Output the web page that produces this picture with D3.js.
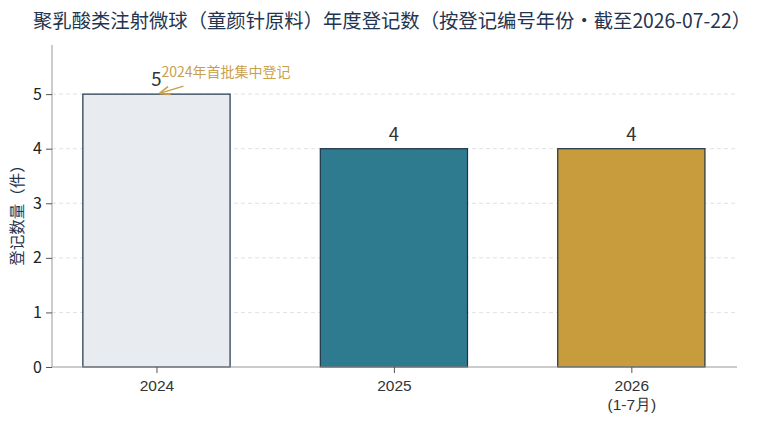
<!DOCTYPE html>
<html><head><meta charset="utf-8">
<script src="https://cdn.jsdelivr.net/npm/d3@7/dist/d3.min.js"></script>
<style>
html,body{margin:0;padding:0;background:#fff;}
svg{display:block;font-family:"Noto Sans CJK SC","Noto Sans",sans-serif;}
</style></head>
<body>
<svg id="c" width="767" height="425"></svg>
<script>
const categories = ["2024", "2025", "2026"];
const categoryLabels = [["2024"], ["2025"], ["2026", "(1-7月)"]];
const values = [5, 4, 4];
const barColors = ["#E8ECF0", "#2E7B90", "#C89B3C"];
const yTicks = [0, 1, 2, 3, 4, 5];
const title = "聚乳酸类注射微球（童颜针原料）年度登记数（按登记编号年份·截至2026-07-22）";
const yLabel = "登记数量（件）";
const annotation = "2024年首批集中登记";

const svg = d3.select("#c");
const m = {l: 52, r: 30, t: 45, b: 58};
const W = 767, H = 425;
const iw = W - m.l - m.r, ih = H - m.t - m.b;
const navy = "#1F3550";

const x = d3.scaleLinear().domain([-0.44, 2.445]).range([m.l, m.l + iw]);
const y = d3.scaleLinear().domain([0, 5.9]).range([m.t + ih, m.t]);
const bw = 0.62;

// title
svg.append("text").attr("x", 392).attr("y", 28).attr("text-anchor", "middle")
  .attr("font-size", 19.5).attr("fill", navy)
  .attr("textLength", 718).attr("lengthAdjust", "spacingAndGlyphs")
  .text(title);

// gridlines
const g = svg.append("g");
g.selectAll("line.grid").data(yTicks.filter(d => d > 0)).join("line")
  .attr("x1", m.l).attr("x2", m.l + iw)
  .attr("y1", d => y(d)).attr("y2", d => y(d))
  .attr("stroke", "#d9d9d9").attr("stroke-width", 0.8).attr("stroke-dasharray", "4,3");

// bars
svg.append("g").selectAll("rect").data(values).join("rect")
  .attr("x", (d, i) => x(i - bw / 2))
  .attr("width", (d, i) => x(i + bw / 2) - x(i - bw / 2))
  .attr("y", d => y(d))
  .attr("height", d => y(0) - y(d))
  .attr("fill", (d, i) => barColors[i])
  .attr("stroke", "#1E3348").attr("stroke-width", 1.2);

// value labels
svg.append("g").selectAll("text").data(values).join("text")
  .attr("x", (d, i) => x(i)).attr("y", d => y(d) - 8)
  .attr("text-anchor", "middle").attr("font-size", 18.5).attr("fill", "#333")
  .text(d => d);

// axes
const yAxis = d3.axisLeft(y).tickValues(yTicks).tickSize(6).tickPadding(4).tickFormat(d3.format("d"));
const ya = svg.append("g").attr("transform", `translate(${m.l},0)`).call(yAxis);
ya.select(".domain").attr("stroke", "#999").attr("d", `M0,${y(0)}V${m.t}`);
ya.selectAll(".tick line").attr("stroke", "#555");
ya.selectAll(".tick text").attr("font-size", 16).attr("fill", "#222").attr("font-family", "'Noto Sans CJK SC',sans-serif");

const xAxis = d3.axisBottom(x).tickValues([0, 1, 2]).tickSize(6).tickFormat(() => "");
const xa = svg.append("g").attr("transform", `translate(0,${y(0)})`).call(xAxis);
xa.select(".domain").attr("stroke", "#999").attr("stroke-width", 1.2).attr("d", `M${m.l},0H${m.l + iw}`);
xa.selectAll(".tick line").attr("stroke", "#555");
xa.selectAll(".tick").each(function(d) {
  const t = d3.select(this).append("text").attr("fill", "#333").attr("font-size", 15.5)
    .attr("text-anchor", "middle");
  categoryLabels[d].forEach((s, k) => {
    t.append("tspan").attr("x", 0).attr("y", 24 + k * 19).text(s);
  });
});

// y label
svg.append("text").attr("transform", `translate(23,${y(2.85)}) rotate(-90)`)
  .attr("text-anchor", "middle").attr("font-size", 15.5).attr("fill", navy)
  .text(yLabel);

// annotation
const gold = "#C9A04E";
svg.append("defs").append("marker").attr("id", "ah").attr("viewBox", "0 0 10 10")
  .attr("refX", 9).attr("refY", 5).attr("markerWidth", 7).attr("markerHeight", 7)
  .attr("orient", "auto")
  .append("path").attr("d", "M0,1 L10,5 L0,9").attr("fill", "none").attr("stroke", gold).attr("stroke-width", 1.6);
svg.append("line").attr("x1", x(0) + 27).attr("y1", y(5) - 8)
  .attr("x2", x(0) + 4).attr("y2", y(5) - 1)
  .attr("stroke", gold).attr("stroke-width", 1.5).attr("marker-end", "url(#ah)");
svg.append("text").attr("x", x(0) + 5).attr("y", y(5) - 17)
  .attr("font-size", 14).attr("fill", gold).text(annotation);
</script>
</body></html>
